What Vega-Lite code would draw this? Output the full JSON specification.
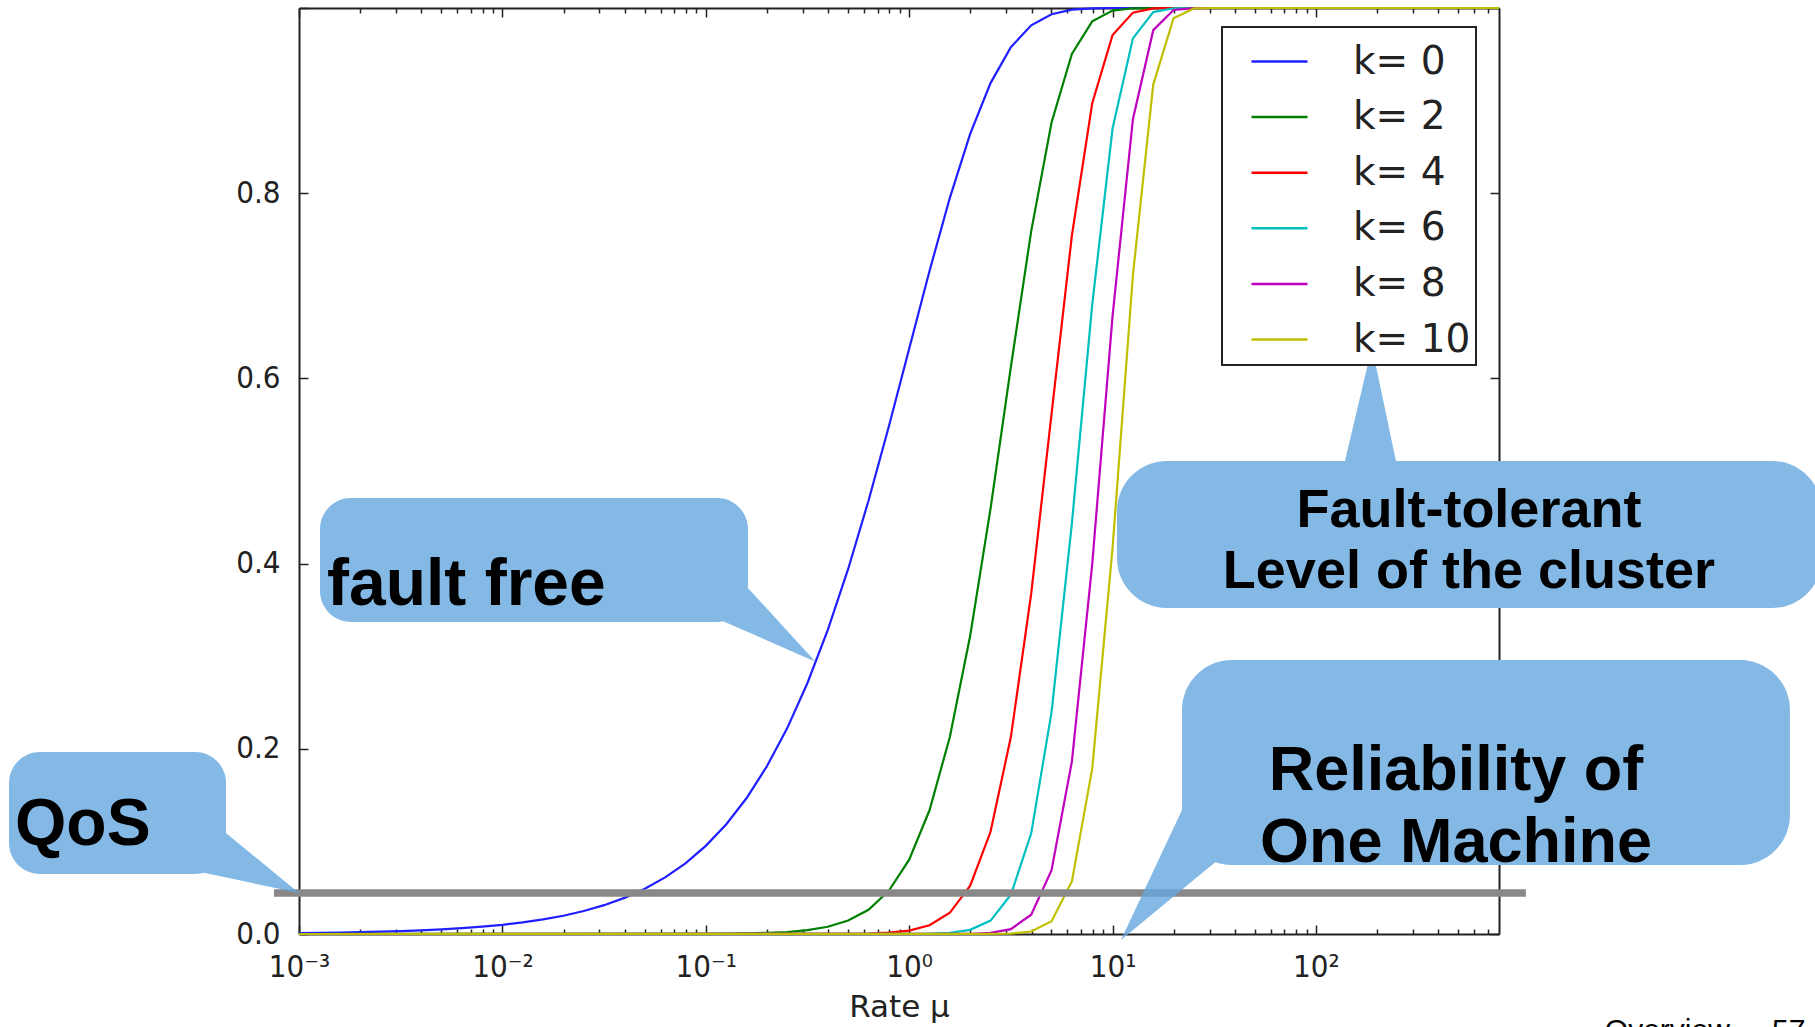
{
  "$schema": "https://vega.github.io/schema/vega-lite/v6.json",
  "width": 1200,
  "height": 926,
  "autosize": {"type": "none"},
  "padding": {"left": 299, "top": 8, "right": 316, "bottom": 93},
  "background": "white",
  "config": {
    "view": {"stroke": null},
    "axis": {
      "grid": false,
      "domainColor": "#222222",
      "domainWidth": 2,
      "tickColor": "#222222",
      "tickWidth": 1.5,
      "labelColor": "#222222",
      "labelFont": "DejaVu Sans Condensed",
      "labelFontSize": 31,
      "titleFont": "DejaVu Sans",
      "titleFontSize": 31,
      "titleColor": "#222222",
      "titleFontWeight": "normal",
      "zindex": 1
    }
  },
  "datasets": {
    "curves": [
      {"k": "k= 0", "mu": 0.001, "p": 0.0010},
      {"k": "k= 0", "mu": 0.001259, "p": 0.00126},
      {"k": "k= 0", "mu": 0.001585, "p": 0.00158},
      {"k": "k= 0", "mu": 0.001995, "p": 0.00199},
      {"k": "k= 0", "mu": 0.002512, "p": 0.00251},
      {"k": "k= 0", "mu": 0.003162, "p": 0.00316},
      {"k": "k= 0", "mu": 0.003981, "p": 0.00397},
      {"k": "k= 0", "mu": 0.005012, "p": 0.0050},
      {"k": "k= 0", "mu": 0.00631, "p": 0.00629},
      {"k": "k= 0", "mu": 0.007943, "p": 0.00791},
      {"k": "k= 0", "mu": 0.01, "p": 0.00995},
      {"k": "k= 0", "mu": 0.01259, "p": 0.01251},
      {"k": "k= 0", "mu": 0.01585, "p": 0.01572},
      {"k": "k= 0", "mu": 0.01995, "p": 0.01975},
      {"k": "k= 0", "mu": 0.02512, "p": 0.02481},
      {"k": "k= 0", "mu": 0.03162, "p": 0.03113},
      {"k": "k= 0", "mu": 0.03981, "p": 0.03903},
      {"k": "k= 0", "mu": 0.05012, "p": 0.04889},
      {"k": "k= 0", "mu": 0.0631, "p": 0.06115},
      {"k": "k= 0", "mu": 0.07943, "p": 0.07636},
      {"k": "k= 0", "mu": 0.1, "p": 0.09516},
      {"k": "k= 0", "mu": 0.1259, "p": 0.1183},
      {"k": "k= 0", "mu": 0.1585, "p": 0.1466},
      {"k": "k= 0", "mu": 0.1995, "p": 0.1809},
      {"k": "k= 0", "mu": 0.2512, "p": 0.2221},
      {"k": "k= 0", "mu": 0.3162, "p": 0.2711},
      {"k": "k= 0", "mu": 0.3981, "p": 0.3284},
      {"k": "k= 0", "mu": 0.5012, "p": 0.3942},
      {"k": "k= 0", "mu": 0.631, "p": 0.4679},
      {"k": "k= 0", "mu": 0.7943, "p": 0.5481},
      {"k": "k= 0", "mu": 1, "p": 0.6321},
      {"k": "k= 0", "mu": 1.259, "p": 0.7160},
      {"k": "k= 0", "mu": 1.585, "p": 0.7950},
      {"k": "k= 0", "mu": 1.995, "p": 0.8640},
      {"k": "k= 0", "mu": 2.512, "p": 0.9189},
      {"k": "k= 0", "mu": 3.162, "p": 0.9577},
      {"k": "k= 0", "mu": 3.981, "p": 0.9813},
      {"k": "k= 0", "mu": 5.012, "p": 0.9933},
      {"k": "k= 0", "mu": 6.31, "p": 0.9982},
      {"k": "k= 0", "mu": 7.943, "p": 0.9996},
      {"k": "k= 0", "mu": 10, "p": 1.0},
      {"k": "k= 0", "mu": 794.3, "p": 1.0},
      {"k": "k= 2", "mu": 0.001, "p": 0},
      {"k": "k= 2", "mu": 0.1, "p": 0.0002},
      {"k": "k= 2", "mu": 0.1259, "p": 0.0003},
      {"k": "k= 2", "mu": 0.1585, "p": 0.0006},
      {"k": "k= 2", "mu": 0.1995, "p": 0.0012},
      {"k": "k= 2", "mu": 0.2512, "p": 0.0021},
      {"k": "k= 2", "mu": 0.3162, "p": 0.0042},
      {"k": "k= 2", "mu": 0.3981, "p": 0.0078},
      {"k": "k= 2", "mu": 0.5012, "p": 0.0145},
      {"k": "k= 2", "mu": 0.631, "p": 0.0262},
      {"k": "k= 2", "mu": 0.7943, "p": 0.0466},
      {"k": "k= 2", "mu": 1, "p": 0.0803},
      {"k": "k= 2", "mu": 1.259, "p": 0.1336},
      {"k": "k= 2", "mu": 1.585, "p": 0.2128},
      {"k": "k= 2", "mu": 1.995, "p": 0.3220},
      {"k": "k= 2", "mu": 2.512, "p": 0.4593},
      {"k": "k= 2", "mu": 3.162, "p": 0.6123},
      {"k": "k= 2", "mu": 3.981, "p": 0.7591},
      {"k": "k= 2", "mu": 5.012, "p": 0.8764},
      {"k": "k= 2", "mu": 6.31, "p": 0.9505},
      {"k": "k= 2", "mu": 7.943, "p": 0.9856},
      {"k": "k= 2", "mu": 10, "p": 0.9972},
      {"k": "k= 2", "mu": 12.59, "p": 0.9997},
      {"k": "k= 2", "mu": 15.85, "p": 1.0},
      {"k": "k= 2", "mu": 794.3, "p": 1.0},
      {"k": "k= 4", "mu": 0.001, "p": 0},
      {"k": "k= 4", "mu": 0.5012, "p": 0.0001},
      {"k": "k= 4", "mu": 0.631, "p": 0.0005},
      {"k": "k= 4", "mu": 0.7943, "p": 0.0014},
      {"k": "k= 4", "mu": 1, "p": 0.0037},
      {"k": "k= 4", "mu": 1.259, "p": 0.0094},
      {"k": "k= 4", "mu": 1.585, "p": 0.0229},
      {"k": "k= 4", "mu": 1.995, "p": 0.0522},
      {"k": "k= 4", "mu": 2.512, "p": 0.1104},
      {"k": "k= 4", "mu": 3.162, "p": 0.2127},
      {"k": "k= 4", "mu": 3.981, "p": 0.3675},
      {"k": "k= 4", "mu": 5.012, "p": 0.5616},
      {"k": "k= 4", "mu": 6.31, "p": 0.7543},
      {"k": "k= 4", "mu": 7.943, "p": 0.8971},
      {"k": "k= 4", "mu": 10, "p": 0.9708},
      {"k": "k= 4", "mu": 12.59, "p": 0.9950},
      {"k": "k= 4", "mu": 15.85, "p": 0.9996},
      {"k": "k= 4", "mu": 19.95, "p": 1.0},
      {"k": "k= 4", "mu": 794.3, "p": 1.0},
      {"k": "k= 6", "mu": 0.001, "p": 0},
      {"k": "k= 6", "mu": 1, "p": 0.0001},
      {"k": "k= 6", "mu": 1.259, "p": 0.0003},
      {"k": "k= 6", "mu": 1.585, "p": 0.0013},
      {"k": "k= 6", "mu": 1.995, "p": 0.0045},
      {"k": "k= 6", "mu": 2.512, "p": 0.0145},
      {"k": "k= 6", "mu": 3.162, "p": 0.0424},
      {"k": "k= 6", "mu": 3.981, "p": 0.1087},
      {"k": "k= 6", "mu": 5.012, "p": 0.2396},
      {"k": "k= 6", "mu": 6.31, "p": 0.4433},
      {"k": "k= 6", "mu": 7.943, "p": 0.6797},
      {"k": "k= 6", "mu": 10, "p": 0.8699},
      {"k": "k= 6", "mu": 12.59, "p": 0.9672},
      {"k": "k= 6", "mu": 15.85, "p": 0.9956},
      {"k": "k= 6", "mu": 19.95, "p": 0.9997},
      {"k": "k= 6", "mu": 25.12, "p": 1.0},
      {"k": "k= 6", "mu": 794.3, "p": 1.0},
      {"k": "k= 8", "mu": 0.001, "p": 0},
      {"k": "k= 8", "mu": 1.585, "p": 0.00004},
      {"k": "k= 8", "mu": 1.995, "p": 0.0002},
      {"k": "k= 8", "mu": 2.512, "p": 0.0012},
      {"k": "k= 8", "mu": 3.162, "p": 0.0053},
      {"k": "k= 8", "mu": 3.981, "p": 0.0208},
      {"k": "k= 8", "mu": 5.012, "p": 0.0689},
      {"k": "k= 8", "mu": 6.31, "p": 0.1863},
      {"k": "k= 8", "mu": 7.943, "p": 0.3995},
      {"k": "k= 8", "mu": 10, "p": 0.6672},
      {"k": "k= 8", "mu": 12.59, "p": 0.8799},
      {"k": "k= 8", "mu": 15.85, "p": 0.9761},
      {"k": "k= 8", "mu": 19.95, "p": 0.9979},
      {"k": "k= 8", "mu": 25.12, "p": 0.9999},
      {"k": "k= 8", "mu": 31.62, "p": 1.0},
      {"k": "k= 8", "mu": 794.3, "p": 1.0},
      {"k": "k= 10", "mu": 0.001, "p": 0},
      {"k": "k= 10", "mu": 2.512, "p": 0.0001},
      {"k": "k= 10", "mu": 3.162, "p": 0.0005},
      {"k": "k= 10", "mu": 3.981, "p": 0.0027},
      {"k": "k= 10", "mu": 5.012, "p": 0.0139},
      {"k": "k= 10", "mu": 6.31, "p": 0.0568},
      {"k": "k= 10", "mu": 7.943, "p": 0.1785},
      {"k": "k= 10", "mu": 10, "p": 0.4170},
      {"k": "k= 10", "mu": 12.59, "p": 0.7114},
      {"k": "k= 10", "mu": 15.85, "p": 0.9173},
      {"k": "k= 10", "mu": 19.95, "p": 0.9889},
      {"k": "k= 10", "mu": 25.12, "p": 0.9995},
      {"k": "k= 10", "mu": 31.62, "p": 1.0},
      {"k": "k= 10", "mu": 794.3, "p": 1.0}
    ],
    "qos": [{"from": 0.000753, "to": 1077, "level": 0.0443}],
    "pointers": [
      {"id": "qos", "mu": 0.00026986, "top": 0.07095, "bottom": 0.07095},
      {"id": "qos", "mu": 0.00034117, "top": 0.12851, "bottom": 0.06620},
      {"id": "qos", "mu": 0.001, "top": 0.04428, "bottom": 0.04428},
      {"id": "free", "mu": 0.091396, "top": 0.34978, "bottom": 0.34978},
      {"id": "free", "mu": 0.12820, "top": 0.39752, "bottom": 0.33564},
      {"id": "free", "mu": 0.34622, "top": 0.29406, "bottom": 0.29406},
      {"id": "level", "mu": 126.68, "top": 0.47387, "bottom": 0.47387},
      {"id": "level", "mu": 188.54, "top": 0.63391, "bottom": 0.47387},
      {"id": "level", "mu": 268.41, "top": 0.47387, "bottom": 0.47387},
      {"id": "machine", "mu": 10.999, "top": -0.00648, "bottom": -0.00648},
      {"id": "machine", "mu": 26.997, "top": 0.17603, "bottom": 0.06415},
      {"id": "machine", "mu": 41.97, "top": 0.09881, "bottom": 0.09881}
    ],
    "smallBoxes": [
      {"id": "qos", "x1": 0.00003752, "x2": 0.0004377, "y1": 0.06479, "y2": 0.19654},
      {"id": "free", "x1": 0.0012683, "x2": 0.16118, "y1": 0.33693, "y2": 0.47084}
    ],
    "bigBoxes": [
      {"id": "level", "x1": 10.511, "x2": 30737, "y1": 0.35205, "y2": 0.51080},
      {"id": "machine", "x1": 21.94, "x2": 21400, "y1": 0.07451, "y2": 0.29590}
    ]
  },
  "layer": [
    {
      "data": {"name": "curves"},
      "mark": {"type": "line", "strokeWidth": 2.2, "clip": false},
      "encoding": {
        "x": {
          "field": "mu", "type": "quantitative",
          "scale": {"type": "log", "domain": [0.001, 794.3], "nice": false},
          "axis": {
            "orient": "bottom",
            "values": [0.001, 0.01, 0.1, 1, 10, 100],
            "tickSize": -9,
            "labelPadding": 27,
            "labelFlush": false,
            "labelOverlap": false,
            "labelExpr": "'10' + (datum.value < 0.005 ? '⁻³' : datum.value < 0.05 ? '⁻²' : datum.value < 0.5 ? '⁻¹' : datum.value < 5 ? '⁰' : datum.value < 50 ? '¹' : '²')",
            "title": "Rate μ",
            "titlePadding": 10
          }
        },
        "y": {
          "field": "p", "type": "quantitative",
          "scale": {"domain": [0, 1], "nice": false, "zero": true},
          "axis": {
            "orient": "left",
            "values": [0, 0.2, 0.4, 0.6, 0.8, 1],
            "tickSize": -9,
            "labelPadding": 28,
            "labelFlush": false,
            "labelExpr": "datum.value > 0.9 ? '' : format(datum.value, '.1f')",
            "title": null
          }
        },
        "color": {
          "field": "k", "type": "nominal",
          "scale": {
            "domain": ["k= 0", "k= 2", "k= 4", "k= 6", "k= 8", "k= 10"],
            "range": ["#1f1fff", "#008000", "#ff0000", "#00bfbf", "#bf00bf", "#bfbf00"]
          },
          "legend": {
            "orient": "none",
            "legendX": 923,
            "legendY": 19,
            "title": null,
            "symbolType": "stroke",
            "symbolSize": 3136,
            "symbolStrokeWidth": 2.5,
            "symbolOpacity": 1,
            "symbolOffset": 23,
            "labelFont": "DejaVu Sans",
            "labelFontSize": 39,
            "labelColor": "#222222",
            "labelOffset": 44,
            "labelLimit": 0,
            "padding": 5,
            "rowPadding": 5.6,
            "strokeColor": "#222222",
            "fillColor": "#ffffff",
            "encode": {"legend": {"update": {"strokeWidth": {"value": 2}}}}
          }
        }
      }
    },
    {
      "data": {"name": "qos"},
      "mark": {"type": "rule", "color": "#888888", "strokeWidth": 7.5, "strokeCap": "butt", "clip": false},
      "encoding": {
        "x": {
          "field": "from", "type": "quantitative",
          "scale": {"type": "log", "domain": [0.001, 794.3], "nice": false},
          "axis": {
            "orient": "bottom",
            "values": [0.002, 0.003, 0.004, 0.005, 0.006, 0.007, 0.008, 0.009, 0.02, 0.03, 0.04, 0.05, 0.06, 0.07, 0.08, 0.09, 0.2, 0.3, 0.4, 0.5, 0.6, 0.7, 0.8, 0.9, 2, 3, 4, 5, 6, 7, 8, 9, 20, 30, 40, 50, 60, 70, 80, 90, 200, 300, 400, 500, 600, 700],
            "tickSize": -5,
            "labels": false,
            "domain": false,
            "title": null
          }
        },
        "x2": {"field": "to"},
        "y": {
          "field": "level", "type": "quantitative",
          "scale": {"domain": [0, 1], "nice": false, "zero": true},
          "axis": {
            "orient": "right",
            "values": [0, 0.2, 0.4, 0.6, 0.8, 1],
            "tickSize": -9,
            "labels": false,
            "title": null
          }
        }
      }
    },
    {
      "data": {"name": "pointers"},
      "mark": {"type": "area", "color": "#65a7e0", "fillOpacity": 0.8, "clip": false, "interpolate": "linear"},
      "encoding": {
        "x": {
          "field": "mu", "type": "quantitative",
          "scale": {"type": "log", "domain": [0.001, 794.3], "nice": false},
          "axis": {
            "orient": "top",
            "values": [0.001, 0.01, 0.1, 1, 10, 100],
            "tickSize": -9,
            "labels": false,
            "title": null
          }
        },
        "y": {"field": "top", "type": "quantitative", "scale": {"domain": [0, 1], "nice": false, "zero": true}, "axis": null},
        "y2": {"field": "bottom"},
        "detail": {"field": "id"}
      }
    },
    {
      "data": {"name": "smallBoxes"},
      "mark": {"type": "rect", "color": "#84b9e6", "cornerRadius": 31, "clip": false},
      "encoding": {
        "x": {
          "field": "x1", "type": "quantitative",
          "scale": {"type": "log", "domain": [0.001, 794.3], "nice": false},
          "axis": {
            "orient": "top",
            "values": [0.002, 0.003, 0.004, 0.005, 0.006, 0.007, 0.008, 0.009, 0.02, 0.03, 0.04, 0.05, 0.06, 0.07, 0.08, 0.09, 0.2, 0.3, 0.4, 0.5, 0.6, 0.7, 0.8, 0.9, 2, 3, 4, 5, 6, 7, 8, 9, 20, 30, 40, 50, 60, 70, 80, 90, 200, 300, 400, 500, 600, 700],
            "tickSize": -5,
            "labels": false,
            "domain": false,
            "title": null
          }
        },
        "x2": {"field": "x2"},
        "y": {"field": "y1", "type": "quantitative", "scale": {"domain": [0, 1], "nice": false, "zero": true}, "axis": null},
        "y2": {"field": "y2"}
      }
    },
    {
      "data": {"name": "bigBoxes"},
      "mark": {"type": "rect", "color": "#84b9e6", "cornerRadius": 50, "clip": false},
      "encoding": {
        "x": {"field": "x1", "type": "quantitative", "scale": {"type": "log", "domain": [0.001, 794.3], "nice": false}, "axis": null},
        "x2": {"field": "x2"},
        "y": {"field": "y1", "type": "quantitative", "scale": {"domain": [0, 1], "nice": false, "zero": true}, "axis": null},
        "y2": {"field": "y2"}
      }
    },
    {
      "data": {"values": [
        {"label": "fault free", "mu": 0.0013732, "p": 0.35529},
        {"label": "QoS", "mu": 0.000040163, "p": 0.09611}
      ]},
      "mark": {"type": "text", "font": "Liberation Sans", "fontWeight": "bold", "fontSize": 66, "align": "left", "baseline": "alphabetic", "color": "#000000", "clip": false},
      "encoding": {
        "x": {"field": "mu", "type": "quantitative", "scale": {"type": "log", "domain": [0.001, 794.3], "nice": false}, "axis": null},
        "y": {"field": "p", "type": "quantitative", "scale": {"domain": [0, 1], "nice": false, "zero": true}, "axis": null},
        "text": {"field": "label"}
      }
    },
    {
      "data": {"values": [
        {"label": "Fault-tolerant", "mu": 565.1, "p": 0.43952},
        {"label": "Level of the cluster", "mu": 565.1, "p": 0.37365}
      ]},
      "mark": {"type": "text", "font": "Liberation Sans", "fontWeight": "bold", "fontSize": 54, "align": "center", "baseline": "alphabetic", "color": "#000000", "clip": false},
      "encoding": {
        "x": {"field": "mu", "type": "quantitative", "scale": {"type": "log", "domain": [0.001, 794.3], "nice": false}, "axis": null},
        "y": {"field": "p", "type": "quantitative", "scale": {"domain": [0, 1], "nice": false, "zero": true}, "axis": null},
        "text": {"field": "label"}
      }
    },
    {
      "data": {"values": [
        {"label": "Reliability of", "mu": 487.9, "p": 0.15551},
        {"label": "One Machine", "mu": 487.9, "p": 0.07775}
      ]},
      "mark": {"type": "text", "font": "Liberation Sans", "fontWeight": "bold", "fontSize": 63, "align": "center", "baseline": "alphabetic", "color": "#000000", "clip": false},
      "encoding": {
        "x": {"field": "mu", "type": "quantitative", "scale": {"type": "log", "domain": [0.001, 794.3], "nice": false}, "axis": null},
        "y": {"field": "p", "type": "quantitative", "scale": {"domain": [0, 1], "nice": false, "zero": true}, "axis": null},
        "text": {"field": "label"}
      }
    },
    {
      "data": {"values": [
        {"label": "Overview", "mu": 10839, "p": -0.115}
      ]},
      "mark": {"type": "text", "font": "Liberation Sans", "fontSize": 30, "align": "right", "baseline": "alphabetic", "color": "#000000", "clip": false},
      "encoding": {
        "x": {"field": "mu", "type": "quantitative", "scale": {"type": "log", "domain": [0.001, 794.3], "nice": false}, "axis": null},
        "y": {"field": "p", "type": "quantitative", "scale": {"domain": [0, 1], "nice": false, "zero": true}, "axis": null},
        "text": {"field": "label"}
      }
    },
    {
      "data": {"values": [
        {"label": "57", "mu": 17458, "p": -0.115}
      ]},
      "mark": {"type": "text", "font": "Liberation Sans", "fontSize": 30, "align": "left", "baseline": "alphabetic", "color": "#000000", "clip": false},
      "encoding": {
        "x": {"field": "mu", "type": "quantitative", "scale": {"type": "log", "domain": [0.001, 794.3], "nice": false}, "axis": null},
        "y": {"field": "p", "type": "quantitative", "scale": {"domain": [0, 1], "nice": false, "zero": true}, "axis": null},
        "text": {"field": "label"}
      }
    }
  ],
  "resolve": {"axis": {"x": "independent", "y": "independent"}}
}
